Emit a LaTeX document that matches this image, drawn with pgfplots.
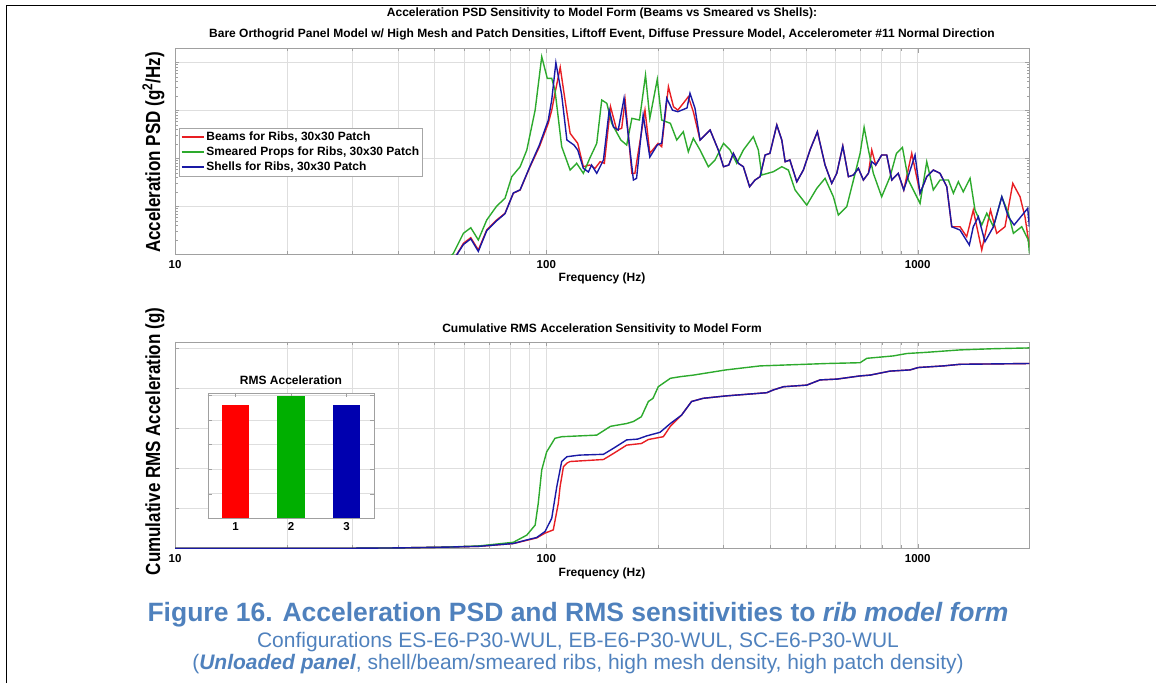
\documentclass[border=0pt]{standalone}
\usepackage{pgfplots}
\pgfplotsset{compat=1.18}
\usepackage{fontspec}
\setmainfont{Liberation Sans}
\definecolor{lred}{RGB}{232,30,35}
\definecolor{lgreen}{RGB}{45,170,45}
\definecolor{lblue}{RGB}{25,25,165}
\definecolor{bred}{RGB}{255,0,0}
\definecolor{bgreen}{RGB}{0,175,0}
\definecolor{bblue}{RGB}{0,0,175}
\definecolor{capblue}{RGB}{79,129,189}
\definecolor{gridc}{RGB}{222,222,222}
\definecolor{axc}{RGB}{160,160,160}
\pgfplotsset{
  freqaxis/.style={scale only axis, width=854.4pt,
    axis line style={axc}, tick style={axc},
    xtick={10,100,1000}, xticklabels={\textbf{10},\textbf{100},\textbf{1000}},
    minor xtick={20,30,40,50,60,70,80,90,200,300,400,500,600,700,800,900,2000},
    xmajorgrids, xminorgrids, ymajorgrids,
    major grid style={gridc}, minor grid style={gridc},
    xticklabel style={font=\fontsize{11.5}{13}\selectfont\bfseries},
    yticklabels={}},
}
\begin{document}
\begin{tikzpicture}
\useasboundingbox (0pt,0pt) rectangle (1156pt,-683pt);
\draw[line width=1.4pt] (6.7pt,-683pt) -- (6.7pt,-5.7pt) -- (1156pt,-5.7pt);
% titles
\node[anchor=base, font=\fontsize{12}{14}\selectfont\bfseries] at (602pt,-16.5pt) {Acceleration PSD Sensitivity to Model Form (Beams vs Smeared vs Shells):};
\node[anchor=base, font=\fontsize{12}{14}\selectfont\bfseries] at (602pt,-37.5pt) {Bare Orthogrid Panel Model w/ High Mesh and Patch Densities, Liftoff Event, Diffuse Pressure Model, Accelerometer \#11 Normal Direction};
% top axis
\begin{axis}[xmode=log, ymode=log, freqaxis, xmin=10, xmax=2000,
  at={(175pt,-254.3pt)}, anchor=south west, height=206pt,
  ymin=1e-5, ymax=0.196,
  ytick={1e-5,1e-4,1e-3,1e-2,1e-1},
  minor ytick={2e-5,3e-5,4e-5,5e-5,6e-5,7e-5,8e-5,9e-5,2e-4,3e-4,4e-4,5e-4,6e-4,7e-4,8e-4,9e-4,2e-3,3e-3,4e-3,5e-3,6e-3,7e-3,8e-3,9e-3,2e-2,3e-2,4e-2,5e-2,6e-2,7e-2,8e-2,9e-2},
  xticklabel style={yshift=-3pt},
  legend style={at={(0.005,0.6146)}, anchor=north west, draw=gray!70, fill=white,
    font=\fontsize{12}{14}\selectfont\bfseries, inner sep=1.5pt, row sep=0pt,
    nodes={inner sep=2pt, minimum height=15pt}},
  legend cell align=left,
  legend image code/.code={\draw[#1] (0pt,0pt) -- (22pt,0pt);},
  legend image post style={line width=1.4pt},
]
\addplot[lred, line width=1.4pt] coordinates {(57,9e-6) (59.8,1.69e-5) (62.6,2.22e-5) (65.6,1.23e-5) (69.1,3.21e-5) (73.5,5.18e-5) (77.4,7.15e-5) (81.5,1.87e-4) (85,2.19e-4) (90.4,6.68e-4) (95.8,1.75e-3) (101.2,5.36e-3) (103.4,1.0e-2) (105.5,2.26e-2) (109,7.87e-2) (112.3,1.64e-2) (115.9,3.32e-3) (121.5,2.05e-3) (125.8,6.68e-4) (130.9,7.25e-4) (135.3,6.19e-4) (139.6,8.49e-4) (143.3,7.87e-4) (148.9,1.19e-2) (154.7,3.89e-3) (159.6,4.22e-3) (163,1.64e-2) (170,4.87e-4) (173.2,4.87e-4) (184.4,1.01e-2) (190,1.27e-3) (200,2.05e-3) (204.5,1.75e-3) (213.2,3.10e-2) (220,1.19e-2) (226,1.01e-2) (233.8,1.40e-2) (241.2,1.92e-2) (248.8,9.35e-3) (259.4,2.41e-3) (276.1,3.89e-3) (290.5,1.49e-3) (300,6.68e-4) (310,7.25e-4) (318.9,1.27e-3) (329,7.87e-4) (339.3,6.68e-4) (352.7,2.56e-4) (364.8,3.53e-4) (376.4,4.14e-4) (388.3,1.17e-3) (400,1.27e-3) (417.5,4.94e-3) (430.6,2.41e-3) (439.7,8.49e-4) (452.8,9.22e-4) (472.6,3.25e-4) (492.3,5.70e-4) (513,1.49e-3) (537,3.58e-3) (563.2,7.25e-4) (587,3.01e-4) (605.6,4.87e-4) (628.6,1.80e-3) (651,4.14e-4) (671.5,4.49e-4) (692.6,6.19e-4) (714.3,3.53e-4) (737,4.87e-4) (752.4,1.49e-3) (771.3,7.25e-4) (800,1.17e-3) (825.6,1.17e-3) (851.7,3.53e-4) (886.4,4.87e-4) (917.6,2.19e-4) (964,1.27e-3) (1015,1.87e-4) (1058,4.14e-4) (1102,5.70e-4) (1149,4.87e-4) (1198,2.56e-4) (1235.5,3.76e-5) (1300,3.76e-5) (1355.6,2.33e-5) (1412,8.37e-5) (1488,1.23e-5) (1571,8.37e-5) (1633,2.74e-5) (1719,3.76e-5) (1804,3.01e-4) (1887,1.58e-4) (1946,6.07e-5) (2000,1.44e-5)};
\addlegendentry{Beams for Ribs, 30x30 Patch}
\addplot[lgreen, line width=1.4pt] coordinates {(54.5,8e-6) (56.2,1.05e-5) (59.8,2.74e-5) (62.6,3.58e-5) (65.6,1.99e-5) (69.1,5.18e-5) (73.5,1.01e-4) (77.4,1.47e-4) (80.7,4.14e-4) (85,6.68e-4) (88.6,1.49e-3) (93.3,1.01e-2) (97.2,0.131) (100.6,4.64e-2) (103.4,4.64e-2) (105.5,2.65e-2) (110,1.75e-3) (115.9,5.70e-4) (120.7,7.87e-4) (125.8,4.87e-4) (130.9,1.0e-3) (136.7,2.05e-3) (141,1.64e-2) (145.5,1.40e-2) (150,5.36e-3) (158.7,2.41e-3) (164.6,1.89e-3) (170,6.81e-3) (178.2,6.28e-3) (185,5.43e-2) (190,6.81e-3) (199,4.42e-2) (204.5,6.28e-3) (215.8,5.36e-3) (224.5,2.41e-3) (233.8,3.58e-3) (241.2,1.37e-3) (248.8,2.61e-3) (259.4,1.49e-3) (273.1,6.68e-4) (284.7,9.22e-4) (300,2.05e-3) (312.5,1.49e-3) (325.7,7.87e-4) (339.3,1.49e-3) (361,2.82e-3) (372.4,1.49e-3) (380.4,4.49e-4) (408.8,5.26e-4) (430.6,6.68e-4) (448.6,5.70e-4) (467.6,2.19e-4) (502.8,1.06e-4) (535,2.37e-4) (563.2,3.83e-4) (593,1.58e-4) (611.6,6.59e-5) (644.3,9.8e-5) (678.7,4.87e-4) (700,1.27e-3) (717.6,4.43e-3) (737,1.49e-3) (759.8,4.87e-4) (800,1.58e-4) (842.8,4.14e-4) (876.9,1.27e-3) (910,1.69e-3) (944,3.53e-4) (1015,1.15e-4) (1058,8.49e-4) (1102,2.19e-4) (1149,3.53e-4) (1210,3.53e-4) (1248,1.87e-4) (1287,3.25e-4) (1327,2.01e-4) (1384,3.83e-4) (1427,8.37e-5) (1488,4.08e-5) (1535,7.15e-5) (1600,3.76e-5) (1685,1.58e-4) (1755,7.15e-5) (1811,2.74e-5) (1907,3.76e-5) (1986,1.99e-5) (2000,1.05e-5)};
\addlegendentry{Smeared Props for Ribs, 30x30 Patch}
\addplot[lblue, line width=1.4pt] coordinates {(57,9e-6) (59.8,1.6e-5) (62.6,2.1e-5) (65.6,1.15e-5) (69.1,3.1e-5) (73.5,5.0e-5) (77.4,7.0e-5) (81.5,1.9e-4) (85,2.2e-4) (90.4,6.9e-4) (95.8,1.9e-3) (101.2,6.2e-3) (103.4,1.64e-2) (106.1,9.82e-2) (110,2.08e-2) (113.6,2.41e-3) (118.7,1.89e-3) (121.5,1.49e-3) (125.8,6.19e-4) (129.8,5.19e-4) (132.4,7.25e-4) (136.7,4.87e-4) (142.5,9.22e-4) (147.7,1.01e-2) (151.6,4.49e-3) (156.2,3.89e-3) (161.9,1.78e-2) (171.6,3.53e-4) (175,3.83e-4) (182.3,7.98e-3) (190,1.06e-3) (199,1.89e-3) (204.5,2.08e-3) (211,1.78e-2) (218.6,1.01e-2) (226,9.35e-3) (239.3,1.12e-2) (243.7,2.26e-2) (251.4,1.10e-2) (259.4,2.41e-3) (276.1,3.89e-3) (290.5,1.49e-3) (300,6.68e-4) (310,7.25e-4) (318.9,1.27e-3) (329,7.87e-4) (339.3,6.68e-4) (352.7,2.56e-4) (364.8,3.53e-4) (376.4,4.14e-4) (388.3,1.17e-3) (400,1.27e-3) (417.5,4.94e-3) (430.6,2.41e-3) (439.7,8.49e-4) (452.8,9.22e-4) (472.6,3.25e-4) (492.3,5.70e-4) (513,1.49e-3) (537,3.58e-3) (563.2,7.25e-4) (587,3.01e-4) (605.6,4.87e-4) (628.6,1.80e-3) (651,4.14e-4) (671.5,4.49e-4) (692.6,6.19e-4) (714.3,3.53e-4) (737,4.87e-4) (752.4,8.5e-4) (771.3,7.25e-4) (800,1.17e-3) (825.6,1.17e-3) (851.7,3.53e-4) (886.4,4.87e-4) (917.6,2.19e-4) (984,1.17e-3) (1015,1.87e-4) (1058,4.14e-4) (1102,5.70e-4) (1149,4.87e-4) (1198,2.56e-4) (1235.5,3.76e-5) (1300,3.21e-5) (1378,1.56e-5) (1412,3.76e-5) (1457,6.07e-5) (1518,1.83e-5) (1600,3.76e-5) (1685,1.58e-4) (1755,6.07e-5) (1819,4.08e-5) (1979,9.08e-5) (2000,3.76e-5)};
\addlegendentry{Shells for Ribs, 30x30 Patch}
\end{axis}
\node[anchor=base, font=\fontsize{12}{14}\selectfont\bfseries] at (602pt,-281.5pt) {Frequency (Hz)};
\node[rotate=90, anchor=base, font=\fontsize{17}{20}\selectfont\bfseries] at (160pt,-152.5pt) {\scalebox{1}[1.2]{Acceleration PSD (g\textsuperscript{2}/Hz)}};
% bottom axis
\node[anchor=base, font=\fontsize{12}{14}\selectfont\bfseries] at (602pt,-332.3pt) {Cumulative RMS Acceleration Sensitivity to Model Form};
\begin{axis}[xmode=log, freqaxis, xmin=10, xmax=2000,
  at={(175pt,-548.3pt)}, anchor=south west, height=206.6pt,
  ymin=0, ymax=5.165, ytick={0,1,2,3,4,5},
  xticklabel style={yshift=-2.5pt},
]
\addplot[lred, line width=1.4pt] coordinates {(10,0) (30,0.002) (40,0.01) (54,0.03) (66,0.05) (81.5,0.12) (88.6,0.2) (94.2,0.26) (99.2,0.38) (104.4,0.46) (107.7,1.12) (108.9,1.54) (111.2,2.04) (113.6,2.13) (115.9,2.17) (142.5,2.22) (151.6,2.37) (164.6,2.58) (180.3,2.62) (188.3,2.72) (206.6,2.79) (215.8,3.05) (224.5,3.21) (231.3,3.33) (246.1,3.67) (264.5,3.75) (304.6,3.81) (392.4,3.89) (408.8,3.96) (435.4,4.04) (502.8,4.08) (546,4.21) (605.6,4.23) (700,4.31) (744.8,4.33) (842.8,4.43) (954,4.46) (1004,4.52) (1173,4.56) (1300,4.60) (2000,4.62)};
\addplot[lgreen, line width=1.4pt] coordinates {(10,0) (30,0.002) (40,0.01) (54,0.03) (66,0.06) (81.5,0.15) (88.6,0.33) (93.3,0.58) (95.1,1.12) (97.2,1.96) (100.2,2.41) (105.5,2.75) (110,2.79) (136.7,2.83) (148.9,3.05) (164.6,3.12) (171.6,3.17) (180.3,3.29) (188.3,3.67) (193.8,3.75) (200.2,4.04) (215.8,4.25) (229.1,4.29) (248.8,4.33) (304.6,4.46) (376.4,4.56) (569.3,4.62) (700,4.64) (729.7,4.75) (860,4.81) (935.3,4.87) (1058,4.90) (1300,4.96) (1600,4.99) (2000,5.01)};
\addplot[lblue, line width=1.4pt] coordinates {(10,0) (30,0.002) (40,0.01) (54,0.03) (66,0.05) (81.5,0.12) (88.6,0.21) (94.2,0.27) (99.2,0.42) (103.4,0.75) (106.7,1.54) (110,2.17) (113.6,2.29) (122.7,2.33) (142.5,2.35) (151.6,2.50) (164.6,2.71) (176.2,2.73) (186.3,2.81) (202.4,2.90) (215.8,3.12) (231.3,3.33) (246.1,3.67) (264.5,3.75) (304.6,3.81) (392.4,3.89) (408.8,3.96) (435.4,4.04) (502.8,4.08) (546,4.21) (605.6,4.23) (700,4.31) (744.8,4.33) (842.8,4.43) (954,4.46) (1004,4.52) (1173,4.56) (1300,4.60) (2000,4.62)};
\end{axis}
% inset
\begin{axis}[scale only axis, at={(207.7pt,-518.3pt)}, anchor=south west, width=166.6pt, height=125.6pt,
  xmin=0.5, xmax=3.5, ymin=0, ymax=5.1,
  xtick={1,2,3}, xticklabels={\textbf{1},\textbf{2},\textbf{3}},
  ytick={0,1,2,3,4,5}, yticklabels={},
  xticklabel style={font=\fontsize{11.5}{13}\selectfont\bfseries, yshift=-1pt},
  ymajorgrids, major grid style={gridc},
  axis line style={axc}, tick style={axc},
  axis background/.style={fill=white},
]
\addplot[ybar, bar shift=0pt, bar width=27.6pt, fill=bred, draw=none] coordinates {(1,4.6)};
\addplot[ybar, bar shift=0pt, bar width=27.6pt, fill=bgreen, draw=none] coordinates {(2,4.95)};
\addplot[ybar, bar shift=0pt, bar width=27.6pt, fill=bblue, draw=none] coordinates {(3,4.6)};
\end{axis}
\node[anchor=base, font=\fontsize{12}{14}\selectfont\bfseries] at (291pt,-384.3pt) {RMS Acceleration};
\node[anchor=base, font=\fontsize{12}{14}\selectfont\bfseries] at (602pt,-576.3pt) {Frequency (Hz)};
\node[rotate=90, anchor=base, font=\fontsize{17}{20}\selectfont\bfseries] at (160pt,-441.5pt) {\scalebox{1}[1.2]{Cumulative RMS Acceleration (g)}};
% caption
\node[anchor=base, text=capblue, font=\fontsize{26.5}{28}\selectfont\bfseries] at (578pt,-621.7pt) {Figure 16. Acceleration PSD and RMS sensitivities to \textit{rib model form}};
\node[anchor=base, text=capblue, font=\fontsize{21}{24}\selectfont] at (578pt,-647.3pt) {Configurations ES-E6-P30-WUL, EB-E6-P30-WUL, SC-E6-P30-WUL};
\node[anchor=base, text=capblue, font=\fontsize{21}{24}\selectfont] at (578pt,-669.3pt) {(\textbf{\textit{Unloaded panel}}, shell/beam/smeared ribs, high mesh density, high patch density)};
\end{tikzpicture}
\end{document}
